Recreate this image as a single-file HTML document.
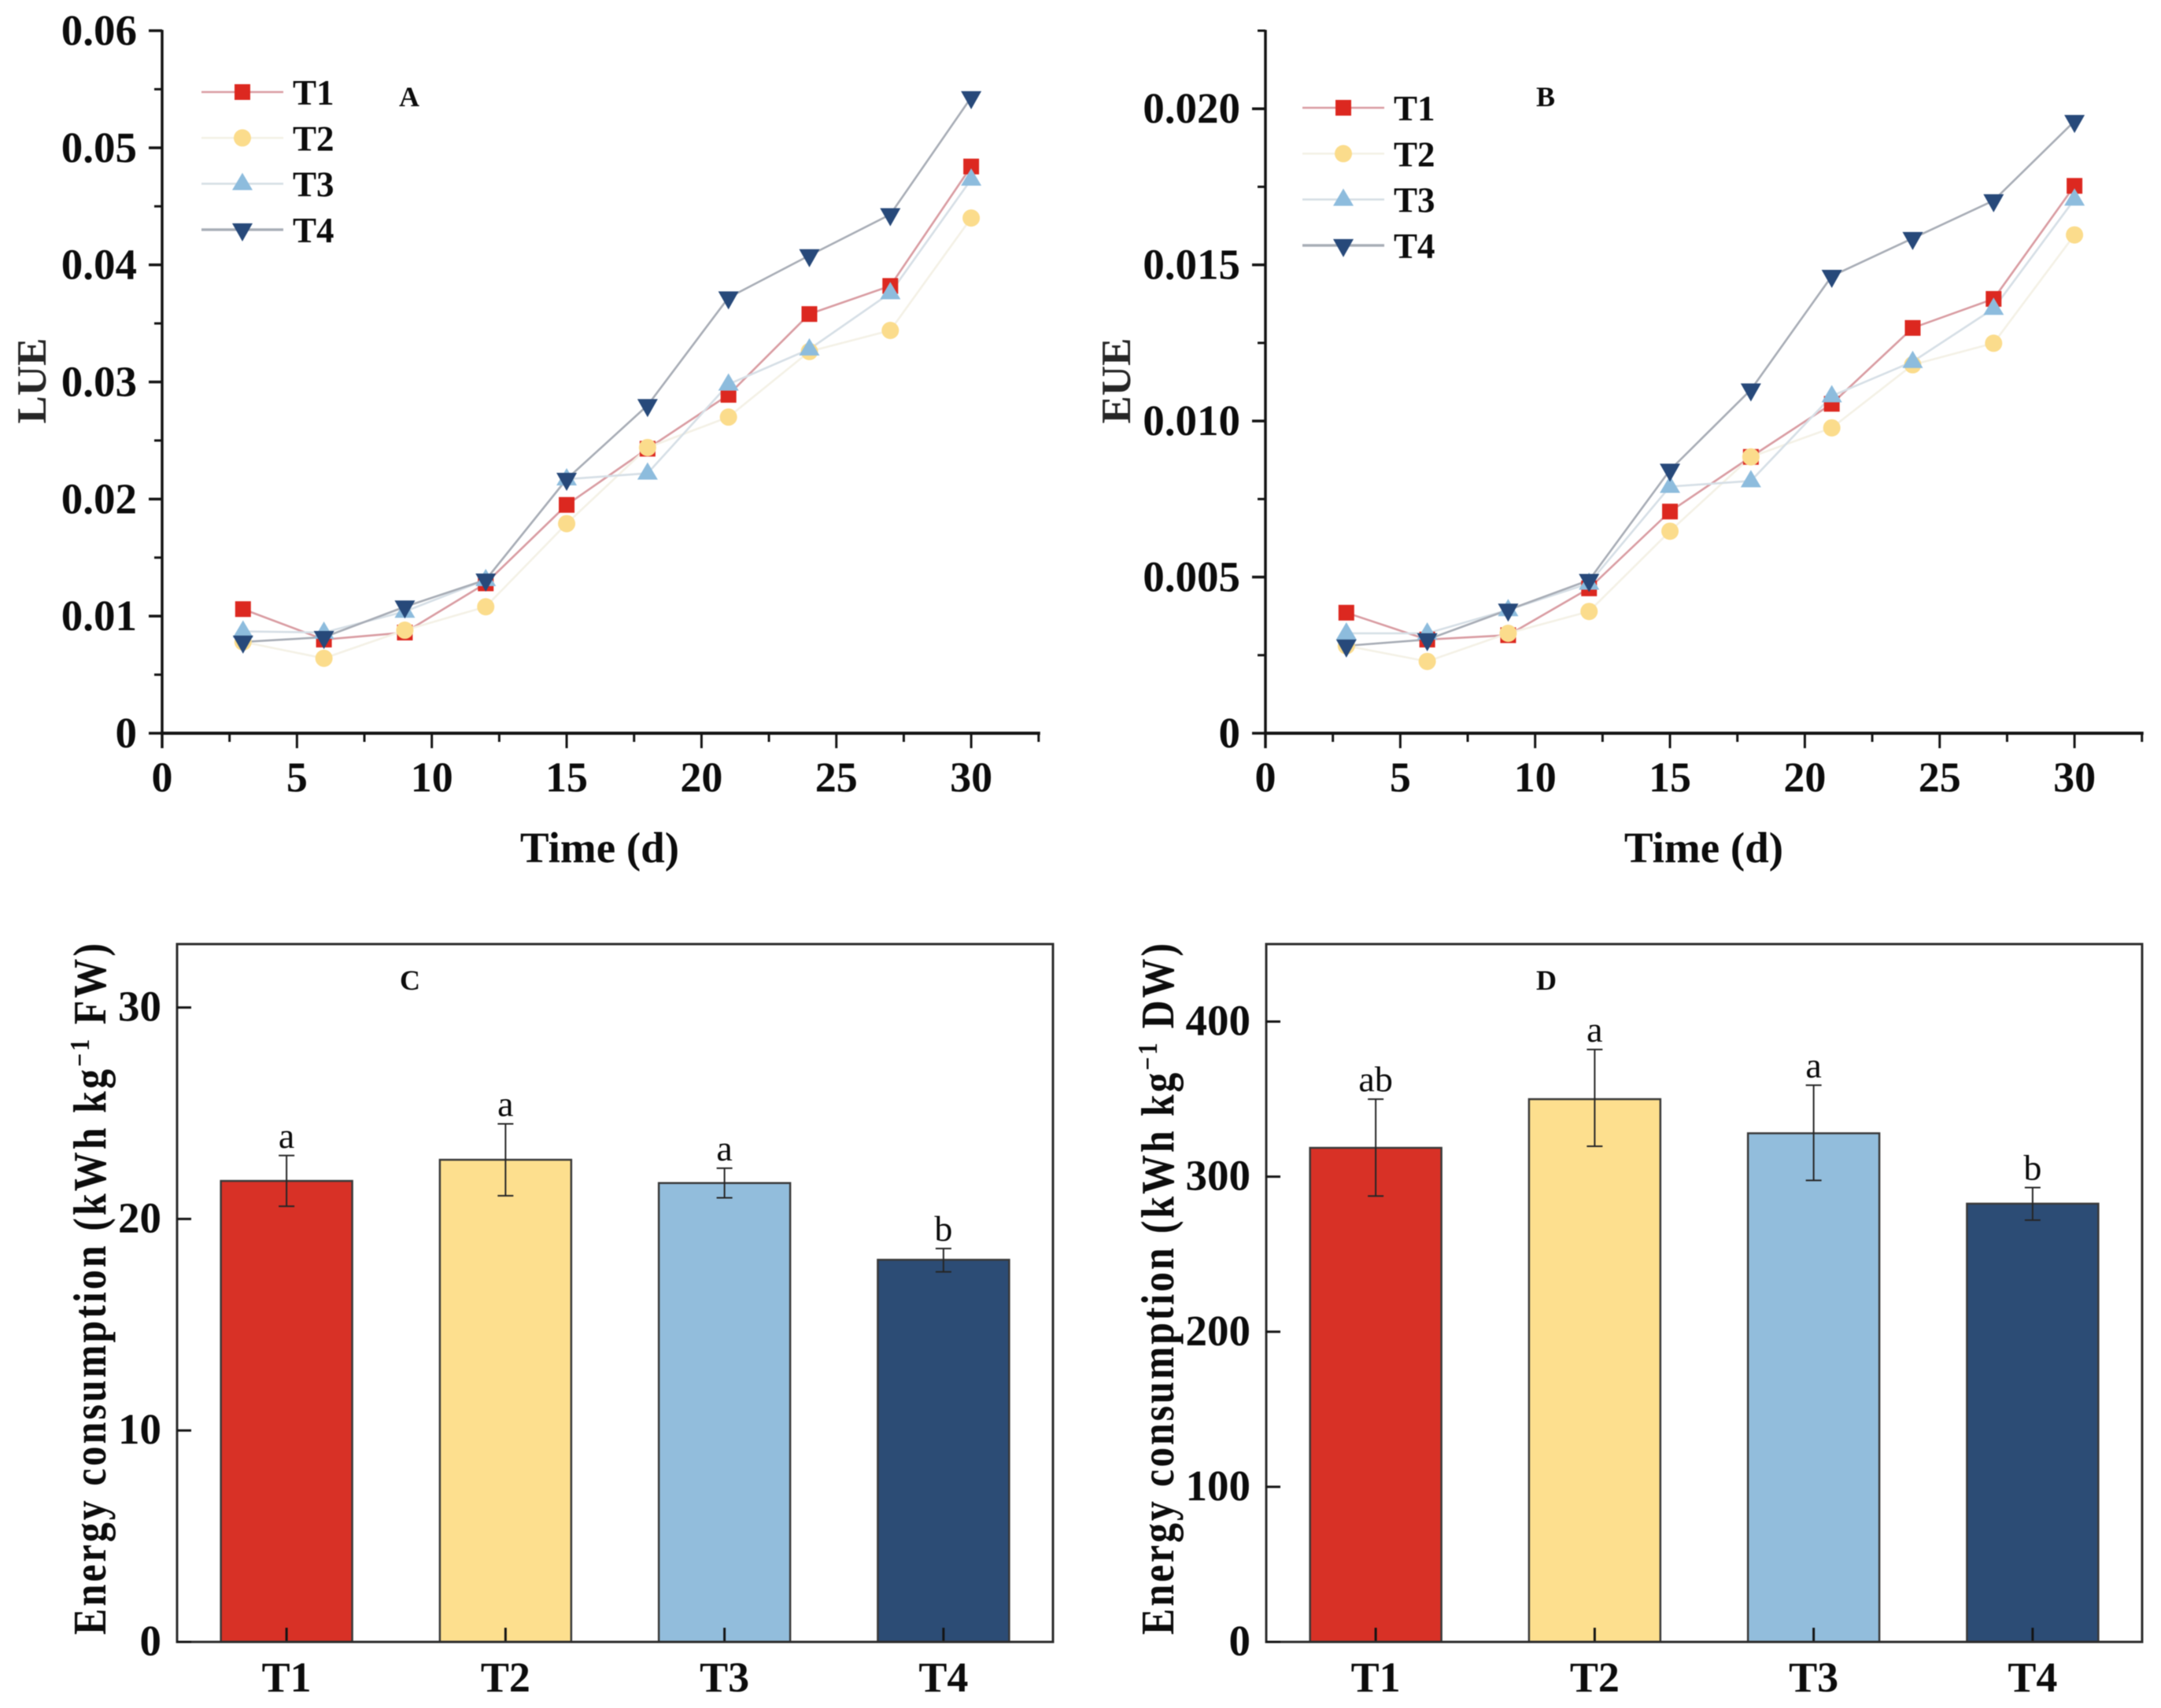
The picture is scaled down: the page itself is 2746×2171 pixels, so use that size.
<!DOCTYPE html>
<html lang="en">
<head>
<meta charset="utf-8">
<title>LUE, EUE and energy consumption</title>
<style>
  html, body { margin: 0; padding: 0; background: #fff; }
  svg { display: block; filter: blur(0.6px); }
  text { font-family: "Liberation Serif", serif; fill: #0c0c0c; }
</style>
</head>
<body>
<svg id="figure" xmlns="http://www.w3.org/2000/svg" width="2746" height="2171" viewBox="0 0 2746 2171"></svg>
<script>
const days = [3, 6, 9, 12, 15, 18, 21, 24, 27, 30];
const seriesNames = ['T1', 'T2', 'T3', 'T4'];

const lueT1 = [0.0106, 0.0080, 0.0086, 0.0128, 0.0195, 0.0243, 0.0289, 0.0358, 0.0382, 0.0484];
const lueT2 = [0.0078, 0.0064, 0.0088, 0.0108, 0.0179, 0.0244, 0.0270, 0.0326, 0.0344, 0.0440];
const lueT3 = [0.0087, 0.0086, 0.0104, 0.0131, 0.0217, 0.0222, 0.0298, 0.0328, 0.0376, 0.0473];
const lueT4 = [0.0078, 0.0082, 0.0108, 0.0131, 0.0217, 0.0280, 0.0372, 0.0408, 0.0443, 0.0543];

const eueT1 = [0.00386, 0.0030, 0.00314, 0.00464, 0.0071, 0.00885, 0.01055, 0.01298, 0.01391, 0.01753];
const eueT2 = [0.0028, 0.0023, 0.0032, 0.0039, 0.00647, 0.00885, 0.00978, 0.0118, 0.01249, 0.01596];
const eueT3 = [0.0032, 0.0032, 0.00395, 0.0048, 0.0079, 0.00808, 0.0108, 0.0119, 0.0136, 0.0171];
const eueT4 = [0.0028, 0.0030, 0.00395, 0.0049, 0.00843, 0.0110, 0.01464, 0.01585, 0.01706, 0.0196];

const xTickValues = [0, 5, 10, 15, 20, 25, 30];
const xMinorValues = [2.5, 7.5, 12.5, 17.5, 22.5, 27.5, 32.5];
const lueTickValues = [0, 0.01, 0.02, 0.03, 0.04, 0.05, 0.06];
const lueTickLabels = ['0', '0.01', '0.02', '0.03', '0.04', '0.05', '0.06'];
const lueMinorValues = [0.005, 0.015, 0.025, 0.035, 0.045, 0.055];
const eueTickValues = [0, 0.005, 0.010, 0.015, 0.020];
const eueTickLabels = ['0', '0.005', '0.010', '0.015', '0.020'];
const eueMinorValues = [0.0025, 0.0075, 0.0125, 0.0175, 0.0225];

const fwMeans = [21.8, 22.8, 21.7, 18.07];
const fwErrUpper = [23.0, 24.5, 22.4, 18.6];
const fwErrLower = [20.6, 21.1, 21.0, 17.5];
const fwLetters = ['a', 'a', 'a', 'b'];
const fwTicks = [0, 10, 20, 30];

const dwMeans = [318.6, 350, 328, 282.6];
const dwErrUpper = [350, 382, 359, 293];
const dwErrLower = [287.5, 319.6, 297.6, 272];
const dwLetters = ['ab', 'a', 'a', 'b'];
const dwTicks = [0, 100, 200, 300, 400];

const markerColors = ['#dc2820', '#fbdc8c', '#8dbcdd', '#27497a'];
const lineColors = ['#d99ca2', '#f4f1e6', '#d6dfe6', '#a8adb6'];
const barColors = ['#d83126', '#fddf8e', '#92bddc', '#2c4c75'];
const markerKinds = ['square', 'circle', 'up', 'down'];

const NS = 'http://www.w3.org/2000/svg';
const root = document.getElementById('figure');

function make(parent, tag, attrs, name, text) {
  const el = document.createElementNS(NS, tag);
  for (const k in attrs) el.setAttribute(k, attrs[k]);
  
  
  if (text !== undefined) el.textContent = text;
  parent.appendChild(el);
  return el;
}

function tickLine(g, x1, y1, x2, y2, width, name) {
  make(g, 'line', { x1: x1, y1: y1, x2: x2, y2: y2, stroke: '#141414', 'stroke-width': width }, name);
}

function drawMarker(g, kind, cx, cy, color, name) {
  if (kind === 'square') {
    make(g, 'rect', { x: cx - 10, y: cy - 10, width: 20, height: 20, fill: color }, name);
  } else if (kind === 'circle') {
    make(g, 'circle', { cx: cx, cy: cy, r: 11, fill: color }, name);
  } else if (kind === 'up') {
    const pts = (cx - 13) + ',' + (cy + 8) + ' ' + (cx + 13) + ',' + (cy + 8) + ' ' + cx + ',' + (cy - 14);
    make(g, 'polygon', { points: pts, fill: color }, name);
  } else {
    const pts = (cx - 13) + ',' + (cy - 8) + ' ' + (cx + 13) + ',' + (cy - 8) + ' ' + cx + ',' + (cy + 15);
    make(g, 'polygon', { points: pts, fill: color }, name);
  }
}

function linePanel(opts) {
  const g = make(root, 'g', {}, opts.id + '-line-chart');
  const xScale = v => opts.x0 + v * 34.27;
  const yBase = 932, yTop = 39;
  const yScale = v => yBase - (v / opts.yMax) * (yBase - yTop);

  opts.series.forEach((values, s) => {
    const pts = values.map((v, i) => xScale(days[i]) + ',' + yScale(v)).join(' ');
    make(g, 'polyline', { points: pts, fill: 'none', stroke: lineColors[s], 'stroke-width': 2.6 }, 'line-' + seriesNames[s].toLowerCase());
  });
  opts.series.forEach((values, s) => {
    values.forEach((v, i) => {
      drawMarker(g, markerKinds[s], xScale(days[i]), yScale(v), markerColors[s], 'point-' + seriesNames[s].toLowerCase() + '-day-' + days[i]);
    });
  });

  make(g, 'line', { x1: opts.x0, y1: yTop - 1, x2: opts.x0, y2: yBase + 19, stroke: '#141414', 'stroke-width': 3.5 }, 'y-axis');
  make(g, 'line', { x1: opts.x0 - 2, y1: yBase, x2: xScale(32.5) + 2, y2: yBase, stroke: '#141414', 'stroke-width': 4 }, 'x-axis');

  xTickValues.forEach(v => {
    tickLine(g, xScale(v), yBase, xScale(v), yBase + 19, 3, 'x-tick');
    make(g, 'text', { x: xScale(v), y: 1006, 'text-anchor': 'middle', 'font-size': 54, 'font-weight': 700 }, 'x-tick-label', String(v));
  });
  xMinorValues.forEach(v => tickLine(g, xScale(v), yBase, xScale(v), yBase + 11, 3, 'x-minor-tick'));
  opts.yTicks.forEach((v, i) => {
    tickLine(g, opts.x0 - 17, yScale(v), opts.x0, yScale(v), 3.5, 'y-tick');
    make(g, 'text', { x: opts.x0 - 32, y: yScale(v) + 18, 'text-anchor': 'end', 'font-size': 55, 'font-weight': 700 }, 'y-tick-label', opts.yLabels[i]);
  });
  opts.yMinor.forEach(v => tickLine(g, opts.x0 - 10, yScale(v), opts.x0, yScale(v), 3, 'y-minor-tick'));

  make(g, 'text', { x: opts.titleX, y: 1096, 'text-anchor': 'middle', 'font-size': 55, 'font-weight': 700 }, 'x-axis-title', 'Time (d)');
  make(g, 'text', { transform: 'translate(' + opts.yTitleX + ',484) rotate(-90)', 'text-anchor': 'middle', 'font-size': 53, 'font-weight': 700, style: 'fill:#262626' }, 'y-axis-title', opts.yTitle);
  make(g, 'text', { x: opts.letterX, y: 135, 'text-anchor': 'middle', 'font-size': 36, 'font-weight': 700 }, 'panel-letter', opts.id);

  seriesNames.forEach((n, s) => {
    const ly = opts.legendY + s * 58.3;
    const entry = make(g, 'g', {}, 'legend-entry-' + n.toLowerCase());
    make(entry, 'line', { x1: opts.legendX, y1: ly, x2: opts.legendX + 104, y2: ly, stroke: lineColors[s], 'stroke-width': s === 3 ? 3.4 : 2.6 }, 'legend-line');
    drawMarker(entry, markerKinds[s], opts.legendX + 52, ly, markerColors[s], 'legend-marker');
    make(entry, 'text', { x: opts.legendX + 116, y: ly + 16, 'font-size': 45, 'font-weight': 700 }, 'legend-label', n);
  });
}

function barPanel(opts) {
  const g = make(root, 'g', {}, opts.id + '-bar-chart');
  const left = opts.left, right = left + 1113, top = 1200, bottom = 2087;
  const band = (right - left) / seriesNames.length;
  const xCenter = i => left + (i + 0.5) * band;
  const yScale = v => bottom - (v / opts.yMax) * (bottom - top);
  const barW = band * 0.6;

  opts.means.forEach((v, i) => {
    make(g, 'rect', { x: xCenter(i) - barW / 2, y: yScale(v), width: barW, height: bottom - yScale(v), fill: barColors[i], stroke: '#3a3a3a', 'stroke-width': 2.5 }, 'bar-' + seriesNames[i].toLowerCase());
  });
  opts.means.forEach((v, i) => {
    const cx = xCenter(i), hi = yScale(opts.upper[i]), lo = yScale(opts.lower[i]);
    make(g, 'line', { x1: cx, y1: hi, x2: cx, y2: lo, stroke: '#262626', 'stroke-width': 2 }, 'error-bar-' + seriesNames[i].toLowerCase());
    make(g, 'line', { x1: cx - 10, y1: hi, x2: cx + 10, y2: hi, stroke: '#262626', 'stroke-width': 2 }, 'error-cap-upper');
    make(g, 'line', { x1: cx - 10, y1: lo, x2: cx + 10, y2: lo, stroke: '#262626', 'stroke-width': 2 }, 'error-cap-lower');
    make(g, 'text', { x: cx, y: hi - 10, 'text-anchor': 'middle', 'font-size': 46 }, 'significance-letter', opts.letters[i]);
    tickLine(g, cx, bottom, cx, bottom - 18, 3, 'x-tick');
    make(g, 'text', { x: cx, y: 2150, 'text-anchor': 'middle', 'font-size': 54, 'font-weight': 700 }, 'x-tick-label', seriesNames[i]);
  });

  make(g, 'rect', { x: left, y: top, width: right - left, height: bottom - top, fill: 'none', stroke: '#2e2e2e', 'stroke-width': 3 }, 'plot-frame');
  opts.ticks.forEach(v => {
    tickLine(g, left, yScale(v), left + 18, yScale(v), 3, 'y-tick');
    make(g, 'text', { x: left - 20, y: yScale(v) + 17, 'text-anchor': 'end', 'font-size': 55, 'font-weight': 700 }, 'y-tick-label', String(v));
  });

  const title = make(g, 'text', { transform: 'translate(' + opts.yTitleX + ',1638.5) rotate(-90) scale(1,1.18)', 'text-anchor': 'middle', 'font-size': 50, 'font-weight': 700, textLength: 879, lengthAdjust: 'spacing' }, 'y-axis-title');
  title.appendChild(document.createTextNode('Energy consumption (kWh kg'));
  make(title, 'tspan', { dy: -18, 'font-size': 30 }, 'y-axis-title-exponent', '\u22121');
  const rest = make(title, 'tspan', { dy: 18 }, 'y-axis-title-unit', ' ' + opts.unit + ')');
  rest.setAttribute('xml:space', 'preserve');

  make(g, 'text', { x: opts.letterX, y: 1258, 'text-anchor': 'middle', 'font-size': 36, 'font-weight': 700 }, 'panel-letter', opts.id);
}

linePanel({ id: 'A', x0: 206, yMax: 0.06, series: [lueT1, lueT2, lueT3, lueT4], yTicks: lueTickValues, yLabels: lueTickLabels, yMinor: lueMinorValues, titleX: 762, yTitle: 'LUE', yTitleX: 58, letterX: 520, legendX: 256, legendY: 117 });
linePanel({ id: 'B', x0: 1608, yMax: 0.0225, series: [eueT1, eueT2, eueT3, eueT4], yTicks: eueTickValues, yLabels: eueTickLabels, yMinor: eueMinorValues, titleX: 2165, yTitle: 'EUE', yTitleX: 1436, letterX: 1964, legendX: 1655, legendY: 137 });
barPanel({ id: 'C', left: 225, yMax: 33, means: fwMeans, upper: fwErrUpper, lower: fwErrLower, letters: fwLetters, ticks: fwTicks, unit: 'FW', yTitleX: 134, letterX: 521 });
barPanel({ id: 'D', left: 1609, yMax: 450, means: dwMeans, upper: dwErrUpper, lower: dwErrLower, letters: dwLetters, ticks: dwTicks, unit: 'DW', yTitleX: 1491, letterX: 1965 });
</script>
</body>
</html>
